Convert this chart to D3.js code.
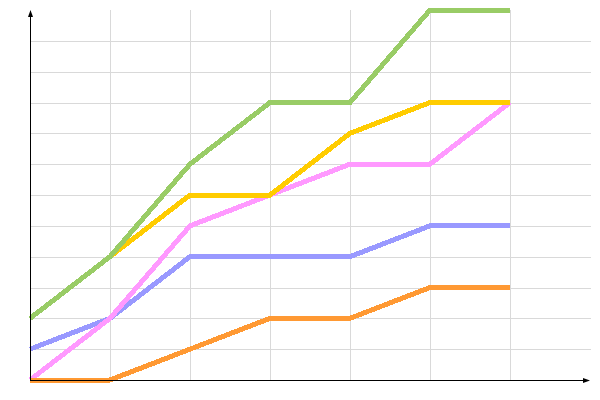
<!DOCTYPE html>
<html>
<head>
<meta charset="utf-8">
<script src="https://cdn.jsdelivr.net/npm/d3@7"></script>
<style>
  html, body { margin: 0; padding: 0; background: #fff; }
  svg { display: block; }
</style>
</head>
<body>
<svg id="chart" width="600" height="400"></svg>
<script>
// Data
const categories = [0, 1, 2, 3, 4, 5, 6];
const seriesNames = ["blue", "pink", "yellow", "orange", "green"];
const blueValues   = [1, 2, 4, 4, 4, 5, 5];
const pinkValues   = [0, 2, 5, 6, 7, 7, 9];
const yellowValues = [2, 4, 6, 6, 8, 9, 9];
const orangeValues = [0, 0, 1, 2, 2, 3, 3];
const greenValues  = [2, 4, 7, 9, 9, 12, 12];
const seriesColors = ["#9999ff", "#ff99ff", "#ffcc00", "#ff9933", "#99cc66"];
const xGridTicks = [1, 2, 3, 4, 5, 6];
const yGridTicks = [1, 2, 3, 4, 5, 6, 7, 8, 9, 10, 11];

const series = [blueValues, pinkValues, yellowValues, orangeValues, greenValues];

const svg = d3.select("#chart");
const x = d3.scaleLinear().domain([0, 7]).range([30, 590]);
const y = d3.scaleLinear().domain([0, 12]).range([380, 10]);

// grid
const grid = svg.append("g").attr("shape-rendering", "crispEdges");
grid.selectAll("line.v").data(xGridTicks).join("line")
  .attr("class", "v")
  .attr("x1", d => Math.round(x(d)) + 0.5).attr("x2", d => Math.round(x(d)) + 0.5)
  .attr("y1", y(12)).attr("y2", y(0))
  .attr("stroke", "#d9d9d9").attr("stroke-width", 1);
grid.selectAll("line.h").data(yGridTicks).join("line")
  .attr("class", "h")
  .attr("y1", d => Math.round(y(d)) + 0.5).attr("y2", d => Math.round(y(d)) + 0.5)
  .attr("x1", x(0)).attr("x2", 591)
  .attr("stroke", "#d9d9d9").attr("stroke-width", 1);

// lines
const line = d3.line().x((d, i) => x(categories[i])).y(d => y(d));
svg.append("g").selectAll("path").data(series).join("path")
  .attr("d", d => line(d))
  .attr("fill", "none")
  .attr("stroke", (d, i) => seriesColors[i])
  .attr("stroke-width", 5)
  .attr("shape-rendering", "crispEdges");

// axes
const ax = svg.append("g").attr("shape-rendering", "crispEdges");
ax.append("line").attr("x1", 30.5).attr("x2", 30.5).attr("y1", 12).attr("y2", 381)
  .attr("stroke", "#000").attr("stroke-width", 1.3);
ax.append("line").attr("x1", 30).attr("x2", 588).attr("y1", 380.5).attr("y2", 380.5)
  .attr("stroke", "#000").attr("stroke-width", 1.3);
svg.append("path").attr("d", "M30.5,10 L28,17 L33,17 Z").attr("fill", "#000");
svg.append("path").attr("d", "M590,380.5 L583,378 L583,383 Z").attr("fill", "#000");
</script>
</body>
</html>
